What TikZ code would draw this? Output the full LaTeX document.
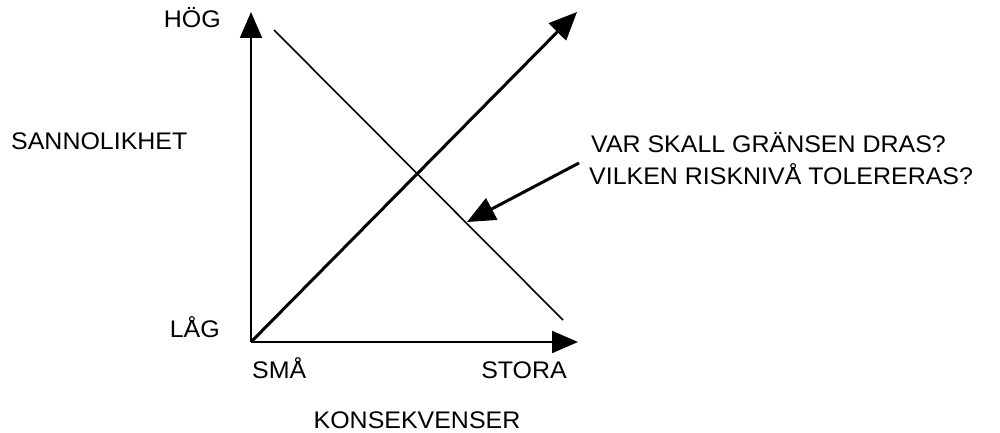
\documentclass[tikz,border=0pt]{standalone}
\usepackage{fontspec}
\setmainfont{Liberation Sans}[FakeStretch=1.04]
\usetikzlibrary{arrows.meta}
\begin{document}
\begin{tikzpicture}[x=1pt,y=-1pt,
  lbl/.style={inner sep=0pt,font=\fontsize{24}{28}\selectfont},
  bigtip/.style={-{Triangle[length=26pt,width=22pt]}},
  axis/.style={line width=2pt,bigtip},
  thick line/.style={line width=3pt,-{Triangle[length=28pt,width=24pt]}}]
\useasboundingbox (0,0) rectangle (1000,433);
\coordinate (o) at (251,342);
\coordinate (ytip) at (251,12);
\coordinate (xtip) at (578,342);
\coordinate (dtip) at (577,12);
\coordinate (ls) at (274,30);
\coordinate (le) at (563,320);
\coordinate (ps) at (579,163);
\coordinate (pe) at (467,222);
\draw[axis] (o) -- (ytip);
\draw[axis] (o) -- (xtip);
\draw[thick line] (o) -- (dtip);
\draw[line width=1.6pt] (ls) -- (le);
\draw[thick line] (ps) -- (pe);
\node[lbl,anchor=base east] (hog) at (221,28) {HÖG};
\node[lbl,anchor=base east] (lag) at (220,337) {LÅG};
\node[lbl,anchor=base west] (sann) at (11,149) {SANNOLIKHET};
\node[lbl,anchor=base west] (sma) at (252,378) {SMÅ};
\node[lbl,anchor=base east] (stora) at (567,378) {STORA};
\node[lbl,anchor=base] (kons) at (417,428) {KONSEKVENSER};
\node[lbl,anchor=base west] (q1) at (591,152) {VAR SKALL GRÄNSEN DRAS?};
\node[lbl,anchor=base west] (q2) at (589,184) {VILKEN RISKNIVÅ TOLERERAS?};
\end{tikzpicture}
\end{document}
